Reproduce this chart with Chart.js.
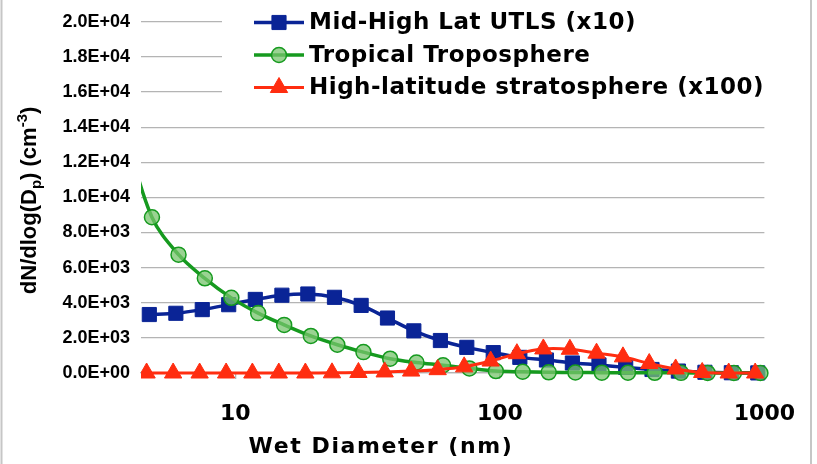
<!DOCTYPE html>
<html>
<head>
<meta charset="utf-8">
<title>Wet diameter size distributions</title>
<script src="https://cdn.jsdelivr.net/npm/chart.js@4/dist/chart.umd.min.js"></script>
<style>
  html, body { margin: 0; padding: 0; background: #fff; }
  #wrap { position: relative; width: 817px; height: 464px; }
</style>
</head>
<body>
<div id="wrap"><canvas id="sizeDist" width="817" height="464"></canvas></div>
<script>
// bin wet diameters (nm) and dN/dlogDp for each regime
const utlsDiam = [4.73, 5.96, 7.50, 9.44, 11.9, 15.0, 18.8, 23.7, 29.9, 37.6, 47.3, 59.6,
  75.0, 94.4, 119, 150, 188, 237, 299, 376, 473, 596, 750, 944];
const utlsN = [3330, 3400, 3610, 3890, 4190, 4430, 4500, 4310, 3850, 3130, 2400, 1850,
  1460, 1160, 890, 740, 570, 460, 320, 200, 110, 40, 15, 5];

const tropDiam = [3.85, 4.84, 6.10, 7.67, 9.66, 12.2, 15.3, 19.3, 24.3, 30.5, 38.5, 48.4,
  61.0, 76.7, 96.6, 122, 153, 193, 243, 305, 385, 484, 610, 767, 966];
const tropN = [13600, 8870, 6740, 5390, 4280, 3410, 2740, 2110, 1610, 1190, 815, 600,
  440, 260, 110, 70, 40, 30, 20, 15, 10, 8, 5, 3, 2];

const stratDiam = [4.62, 5.82, 7.33, 9.23, 11.6, 14.6, 18.4, 23.2, 29.2, 36.7, 46.2, 58.2,
  73.3, 92.3, 116, 146, 184, 232, 292, 367, 462, 582, 733, 923];
const stratN = [0, 0, 0, 0, 0, 0, 0, 10, 30, 60, 110, 190,
  350, 680, 1100, 1370, 1350, 1130, 920, 540, 230, 30, 0, 0];

const seriesLabels = ['Mid-High Lat UTLS (x10)', 'Tropical Troposphere', 'High-latitude stratosphere (x100)'];
const xTitle = 'Wet Diameter (nm)';
const yTicks = [0, 2000, 4000, 6000, 8000, 10000, 12000, 14000, 16000, 18000, 20000];
const xTicks = [10, 100, 1000];

const blue = '#0a2496';
const green = '#169a1f';
const greenFill = 'rgba(120, 196, 110, 0.75)';
const red = '#ff2d10';
const gridGrey = '#b4b4b4';

function pairs(xs, ys) {
  return xs.map((x, i) => ({ x: x, y: ys[i] }));
}

// 2.0E+04 style labels
function sci(v) {
  const parts = v.toExponential(1).split('e');
  const exp = parseInt(parts[1], 10);
  return parts[0] + 'E' + (exp < 0 ? '-' : '+') + String(Math.abs(exp)).padStart(2, '0');
}

// axis titles: rotated y title with sub/superscript, wide x title
const axisTitles = {
  id: 'axisTitles',
  afterDraw(chart) {
    const ctx = chart.ctx;
    const area = chart.chartArea;
    const big = 'bold 22px "Liberation Sans"';
    const small = 'bold 15px "Liberation Sans"';
    const bits = [['dN/dlog(D', big, 0], ['p', small, 5], [') (cm', big, 0], ['-3', small, -9], [')', big, 0]];
    ctx.save();
    ctx.translate(36, (area.top + area.bottom) / 2 + 3);
    ctx.rotate(-Math.PI / 2);
    ctx.fillStyle = '#000';
    ctx.textBaseline = 'alphabetic';
    ctx.textAlign = 'left';
    let total = 0;
    bits.forEach(b => { ctx.font = b[1]; total += ctx.measureText(b[0]).width; });
    let x = -total / 2;
    bits.forEach(b => {
      ctx.font = b[1];
      ctx.fillText(b[0], x, b[2]);
      x += ctx.measureText(b[0]).width;
    });
    ctx.restore();

    ctx.save();
    ctx.fillStyle = '#000';
    ctx.font = 'bold 22px "DejaVu Sans"';
    ctx.letterSpacing = '1.6px';
    ctx.textAlign = 'center';
    ctx.textBaseline = 'alphabetic';
    ctx.fillText(xTitle, 381, 453);
    ctx.restore();
  }
};

// legend box in the upper right, line + marker + label
const seriesKey = {
  id: 'seriesKey',
  afterDraw(chart) {
    const ctx = chart.ctx;
    ctx.save();
    ctx.fillStyle = '#fff';
    ctx.fillRect(222, 0, 560, 104);
    chart.data.datasets.forEach((ds, i) => {
      const y = 22.5 + i * 32.5;
      ctx.strokeStyle = ds.borderColor;
      ctx.lineWidth = ds.borderWidth;
      ctx.beginPath();
      ctx.moveTo(254, y);
      ctx.lineTo(304, y);
      ctx.stroke();
      ctx.fillStyle = ds.pointBackgroundColor;
      ctx.strokeStyle = ds.pointBorderColor;
      ctx.lineWidth = ds.pointBorderWidth;
      Chart.helpers.drawPoint(ctx, {
        pointStyle: ds.pointStyle, radius: ds.pointRadius, rotation: 0, borderWidth: ds.pointBorderWidth
      }, 279, y);
      ctx.fillStyle = '#000';
      ctx.font = 'bold 23px "DejaVu Sans"';
      ctx.letterSpacing = '0.5px';
      ctx.textBaseline = 'middle';
      ctx.textAlign = 'left';
      ctx.fillText(ds.label, 309, y + 1);
      ctx.letterSpacing = '0px';
    });
    ctx.restore();
  }
};

// thin sheet borders either side
const frame = {
  id: 'frame',
  afterDraw(chart) {
    const ctx = chart.ctx;
    ctx.save();
    ctx.strokeStyle = '#c6c6c6';
    ctx.lineWidth = 2;
    ctx.beginPath();
    ctx.moveTo(1.5, 0); ctx.lineTo(1.5, chart.height);
    ctx.moveTo(811, 0); ctx.lineTo(811, chart.height);
    ctx.stroke();
    ctx.restore();
  }
};

const markerClip = { left: 0, top: 0, right: 10, bottom: 12 };

// later series are painted over earlier ones (lower order = on top)
new Chart(document.getElementById('sizeDist'), {
  type: 'line',
  data: {
    datasets: [
      {
        label: seriesLabels[0],
        data: pairs(utlsDiam, utlsN),
        order: 3,
        borderColor: blue,
        backgroundColor: blue,
        borderWidth: 3.5,
        pointStyle: 'rect',
        pointRadius: 10,
        pointBackgroundColor: blue,
        pointBorderColor: blue,
        pointBorderWidth: 1,
        tension: 0.3,
        clip: markerClip
      },
      {
        label: seriesLabels[1],
        data: pairs(tropDiam, tropN),
        order: 2,
        borderColor: green,
        backgroundColor: greenFill,
        borderWidth: 3.5,
        pointStyle: 'circle',
        pointRadius: 7.5,
        pointBackgroundColor: greenFill,
        pointBorderColor: green,
        pointBorderWidth: 1.5,
        tension: 0.35,
        clip: markerClip
      },
      {
        label: seriesLabels[2],
        data: pairs(stratDiam, stratN),
        order: 1,
        borderColor: red,
        backgroundColor: red,
        borderWidth: 3,
        pointStyle: 'triangle',
        pointRadius: 10,
        pointBackgroundColor: red,
        pointBorderColor: red,
        pointBorderWidth: 1,
        tension: 0.3,
        clip: markerClip
      }
    ]
  },
  options: {
    responsive: false,
    animation: false,
    devicePixelRatio: 1,
    layout: { padding: { top: 13, right: 51, left: 0, bottom: 0 } },
    plugins: {
      legend: { display: false },
      tooltip: { enabled: false }
    },
    scales: {
      x: {
        type: 'logarithmic',
        min: 4.4,
        max: 1000,
        afterFit(scale) { scale.height = 91; },
        afterBuildTicks(scale) { scale.ticks = xTicks.map(v => ({ value: v })); },
        grid: { drawOnChartArea: false, drawTicks: true, tickLength: 6, color: gridGrey, lineWidth: 1.3 },
        border: { display: true, color: gridGrey, width: 1.3 },
        ticks: {
          color: '#000',
          padding: 22,
          maxRotation: 0,
          autoSkip: false,
          font: { family: 'DejaVu Sans', weight: 'bold', size: 22 },
          callback: v => String(v)
        }
      },
      y: {
        min: 0,
        max: 20000,
        afterFit(scale) { scale.width = 141; },
        afterBuildTicks(scale) { scale.ticks = yTicks.map(v => ({ value: v })); },
        grid: { drawTicks: false, color: gridGrey, lineWidth: 1.3 },
        border: { display: false },
        ticks: {
          color: '#000',
          padding: 11,
          font: { family: 'Liberation Sans', weight: 'bold', size: 18 },
          callback: v => sci(v)
        }
      }
    }
  },
  plugins: [axisTitles, seriesKey, frame]
});
</script>
</body>
</html>
